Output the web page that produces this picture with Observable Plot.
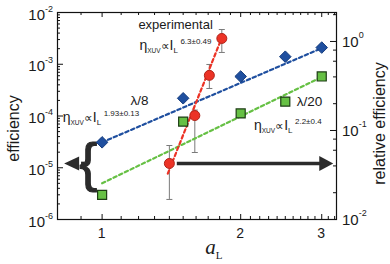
<!DOCTYPE html>
<html><head><meta charset="utf-8">
<script src="https://cdn.jsdelivr.net/npm/d3@7"></script>
<script src="https://cdn.jsdelivr.net/npm/@observablehq/plot@0.6"></script>
<style>
html,body{margin:0;padding:0;background:#fff;}
#chart{position:absolute;left:0;top:0;}
svg{overflow:visible;}
</style></head><body><div id="chart"></div>
<script>
// ---------- data ----------
const aL = [1.0, 1.5, 2.0, 2.5, 3.0];
const effLambda8 = [3.1e-5, 2.2e-4, 5.8e-4, 1.4e-3, 2.1e-3];
const effLambda20 = [3.0e-6, 7.8e-5, 1.12e-4, 1.9e-4, 5.8e-4];
const aExp = [1.40, 1.59, 1.71, 1.82];
const effExp = [1.21e-5, 1.02e-4, 6.1e-4, 3.15e-3];
const effExpLow = [2.44e-6, 1.97e-5, 3.4e-4, 1.69e-3];
const effExpHigh = [2.69e-5, 1.3e-4, 9.9e-4, 4.69e-3];
const fitLambda8A = [1.0, 3.02], fitLambda8Eff = [3.1e-5, 2.1e-3];
const fitLambda20A = [1.0, 3.02], fitLambda20Eff = [5.0e-6, 5.8e-4];
const fitExpA = [1.389, 1.828], fitExpEff = [7.7e-6, 3.6e-3];
const xTickLabels = [1, 2, 3];
const yTickExponents = [-6, -5, -4, -3, -2];
const rightTickExponents = [-2, -1, 0];
const rightMinorMultipliers = [2, 4, 6, 8];
// arrows (a_L positions, level = first experimental point)
const rightArrowA = [1.453, 2.98, 3.178];
const leftArrowA = [0.917, 0.90, 0.827];
const braceA = 0.933;
// annotation anchors [a_L, efficiency] of the text baseline start
const annExperimental = [1.202, 4.69e-3];
const annEta63 = [1.208, 1.85e-3];
const annLambda8 = [1.156, 1.6e-4];
const annEta193 = [0.823, 7.5e-5];
const annLambda20 = [2.655, 1.53e-4];
const annEta22 = [2.143, 5.25e-5];

// right axis: relative efficiency 1e-2 at bottom, 1.72 left-decades per right-decade
const rightRatio = 1.72;
const rightToEff = r => Math.pow(10, -6 + (Math.log10(r) + 2) * rightRatio);

// ---------- tables ----------
const l8 = aL.map((a, i) => ({a, e: effLambda8[i]}));
const l20 = aL.map((a, i) => ({a, e: effLambda20[i]}));
const ex = aExp.map((a, i) => ({a, e: effExp[i], lo: effExpLow[i], hi: effExpHigh[i]}));
const fit8 = fitLambda8A.map((a, i) => ({a, e: fitLambda8Eff[i]}));
const fit20 = fitLambda20A.map((a, i) => ({a, e: fitLambda20Eff[i]}));
const fitEx = fitExpA.map((a, i) => ({a, e: fitExpEff[i]}));
const level = effExp[0];

const xMinor = d3.range(8, 33).map(d => d / 10).filter(d => !xTickLabels.includes(d));
const yMajor = yTickExponents.map(p => Math.pow(10, p));
const yMinor = [];
for (const p of yTickExponents.slice(0, -1)) for (let m = 2; m <= 9; m++) yMinor.push(m * Math.pow(10, p));
const rMajor = rightTickExponents.map(p => rightToEff(Math.pow(10, p)));
const rMinor = [];
for (const p of rightTickExponents) for (const m of rightMinorMultipliers) {
  const v = m * Math.pow(10, p); if (v < 2.1) rMinor.push(rightToEff(v));
}

const W = 390, H = 264, mL = 57, mR = 54, mT = 12, mB = 45;
const pw = W - mL - mR, ph = H - mT - mB;

const capSym = {draw(ctx, size) { const r = 3; ctx.moveTo(-r, 0); ctx.lineTo(r, 0); }};
const headRight = {draw(ctx) { ctx.moveTo(0, 0); ctx.lineTo(-14, -7.5); ctx.lineTo(-14, 7.5); ctx.closePath(); }};
const headLeft = {draw(ctx) { ctx.moveTo(0, 0); ctx.lineTo(15, -7); ctx.lineTo(15, 7); ctx.closePath(); }};

const blue = "#1f4f9f", green = "#66c044", red = "#ec3326", ink = "#111";
const dash = "3.5,2.8";

const plot = Plot.plot({
  width: W, height: H,
  marginLeft: mL, marginRight: mR, marginTop: mT, marginBottom: mB,
  x: {type: "log", domain: [0.8, 3.23], axis: null},
  y: {type: "log", domain: [1e-6, 1e-2], axis: null},
  style: {fontFamily: "'Liberation Sans', Arial, sans-serif", background: "white"},
  marks: [
    // ticks (inward)
    Plot.tickX(xMinor, {x: d => d, insetTop: ph - 3, stroke: ink}),
    Plot.tickX(xMinor, {x: d => d, insetBottom: ph - 3, stroke: ink}),
    Plot.tickX(xTickLabels, {x: d => d, insetTop: ph - 5, stroke: ink}),
    Plot.tickX(xTickLabels, {x: d => d, insetBottom: ph - 5, stroke: ink}),
    Plot.tickY(yMinor, {y: d => d, insetRight: pw - 3, stroke: ink}),
    Plot.tickY(yMajor, {y: d => d, insetRight: pw - 6, stroke: ink}),
    Plot.tickY(rMinor, {y: d => d, insetLeft: pw - 3, stroke: ink}),
    Plot.tickY(rMajor, {y: d => d, insetLeft: pw - 6, stroke: ink}),
    Plot.frame({stroke: ink, strokeWidth: 1.2}),
    // arrows
    Plot.link([0], {x1: rightArrowA[0], x2: rightArrowA[1], y1: level, y2: level, stroke: "#2b2b2b", strokeWidth: 3.6}),
    Plot.dot([0], {x: rightArrowA[2], y: level, symbol: headRight, fill: "#2b2b2b", stroke: "none"}),
    Plot.link([0], {x1: leftArrowA[0], x2: leftArrowA[1], y1: level, y2: level, stroke: "#2b2b2b", strokeWidth: 3.6}),
    Plot.dot([0], {x: leftArrowA[2], y: level, symbol: headLeft, fill: "#2b2b2b", stroke: "none"}),
    Plot.text([0], {x: braceA, y: level, text: () => "{", fontSize: 54, fill: "#2b2b2b", stroke: "#2b2b2b", strokeWidth: 1.2, fontFamily: "'Liberation Sans', Arial, sans-serif"}),
    // error bars
    Plot.ruleX(ex, {x: "a", y1: "lo", y2: "hi", stroke: "#7a7a7a", strokeWidth: 1}),
    Plot.dot(ex, {x: "a", y: "lo", symbol: capSym, stroke: "#7a7a7a", strokeWidth: 1}),
    Plot.dot(ex, {x: "a", y: "hi", symbol: capSym, stroke: "#7a7a7a", strokeWidth: 1}),
    // fits
    Plot.line(fit8, {x: "a", y: "e", stroke: blue, strokeWidth: 2.2, strokeDasharray: dash}),
    Plot.line(fit20, {x: "a", y: "e", stroke: green, strokeWidth: 2.2, strokeDasharray: dash}),
    Plot.line(fitEx, {x: "a", y: "e", stroke: red, strokeWidth: 2.2, strokeDasharray: dash}),
    // points
    Plot.dot(l8, {x: "a", y: "e", symbol: "diamond2", r: 5.2, fill: blue, stroke: "#163d7e", strokeWidth: 1}),
    Plot.dot(l20, {x: "a", y: "e", symbol: "square", r: 5.1, fill: green, stroke: "#1d3d14", strokeWidth: 1.2}),
    Plot.dot(ex, {x: "a", y: "e", r: 5, fill: red, stroke: "#b0241a", strokeWidth: 1})
  ]
});
document.getElementById("chart").appendChild(plot);

// scales (same as plot's)
let xs, ys;
try { const sx = plot.scale("x"), sy = plot.scale("y"); xs = v => sx.apply(v); ys = v => sy.apply(v); xs(1); }
catch (e) {
  const dx = d3.scaleLog().domain([0.8, 3.23]).range([mL, W - mR]);
  const dy = d3.scaleLog().domain([1e-6, 1e-2]).range([H - mB, mT]);
  xs = dx; ys = dy;
}

const svg = d3.select(plot);
const g = svg.append("g").attr("font-family", "'Liberation Sans', Arial, sans-serif").attr("fill", "#1a1a1a");

function rich(x, y, parts, anchor) {
  const t = g.append("text").attr("x", x).attr("y", y).attr("text-anchor", anchor || "start");
  let cur = 0;
  for (const p of parts) {
    const s = p.shift || 0;
    const ts = t.append("tspan").attr("dy", s - cur).attr("font-size", p.size).text(p.t);
    if (p.dx) ts.attr("dx", p.dx);
    if (p.italic) ts.attr("font-style", "italic");
    if (p.family) ts.attr("font-family", p.family);
    cur = s;
  }
  return t;
}

// left tick labels
for (const p of yTickExponents) {
  const y = ys(Math.pow(10, p));
  rich(53, y + 7.5, [{t: "10", size: 15}, {t: String(p), size: 9, shift: -8}], "end");
}
// right tick labels
for (const p of rightTickExponents) {
  const y = ys(rightToEff(Math.pow(10, p)));
  rich(342, y + 6, [{t: "10", size: 15}, {t: String(p), size: 9, shift: -9}], "start");
}
// bottom tick labels
for (const v of xTickLabels) {
  g.append("text").attr("x", xs(v)).attr("y", 238).attr("text-anchor", "middle").attr("font-size", 14).text(v);
}
// axis titles
g.append("text").attr("transform", `translate(19,${(mT + H - mB) / 2 + 13}) rotate(-90)`)
  .attr("text-anchor", "middle").attr("font-size", 16).text("efficiency");
g.append("text").attr("transform", `translate(385,${(mT + H - mB) / 2 + 8}) rotate(-90)`)
  .attr("text-anchor", "middle").attr("font-size", 16).text("relative efficiency");
rich(xs(1.68), 254, [{t: "a", size: 21, italic: true, family: "'Liberation Serif', 'Times New Roman', serif"},
  {t: "L", size: 11, shift: 5, family: "'Liberation Serif', 'Times New Roman', serif"}], "start");

// annotations
function eta(anchor, sup) {
  rich(xs(anchor[0]), ys(anchor[1]), [
    {t: "η", size: 14}, {t: "XUV", size: 6.5, shift: 3}, {t: "∝", size: 12, shift: 0},
    {t: "I", size: 14}, {t: "L", size: 8, shift: 3}, {t: sup, size: 8, shift: -6, dx: 2.5}
  ]);
}
rich(xs(annExperimental[0]), ys(annExperimental[1]), [{t: "experimental", size: 13}]);
eta(annEta63, "6.3±0.49");
rich(xs(annLambda8[0]), ys(annLambda8[1]), [{t: "λ/8", size: 13.5}]);
eta(annEta193, "1.93±0.13");
rich(xs(annLambda20[0]), ys(annLambda20[1]), [{t: "λ/20", size: 13.5}]);
eta(annEta22, "2.2±0.4");
</script></body></html>
